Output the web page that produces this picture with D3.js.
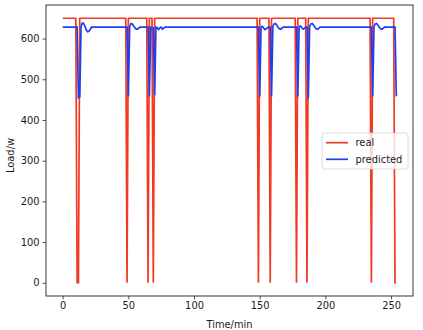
<!DOCTYPE html>
<html>
<head>
<meta charset="utf-8">
<script src="https://cdn.jsdelivr.net/npm/d3@7"></script>
<style>
	html, body { margin: 0; padding: 0; background: #fff; }
	text { font-family: "DejaVu Sans", sans-serif; }
</style>
</head>
<body>
<div id="my_data"></div>
<script>
// real load: vertices (minute, watts)
var realT = [0, 10, 11, 12, 13, 48, 49, 50, 64, 65, 66, 68, 69, 70, 148, 149, 150, 157, 158, 159, 177, 178, 179, 185, 186, 187, 234, 235, 236, 252, 253, 254];
var realV = [650, 650, 0, 0, 650, 650, 0, 650, 650, 0, 650, 650, 0, 650, 650, 0, 650, 650, 0, 650, 650, 0, 650, 650, 0, 650, 650, 0, 650, 650, 0, 0];

// predicted load
var predT = [0, 11, 12, 13, 14, 15, 16, 17, 18, 19, 20, 21, 22,
	49, 50, 51, 52, 53, 54, 55, 56, 57, 58, 59,
	65, 66, 67, 68, 69, 70, 71, 72, 73, 74, 75, 76, 77, 78,
	149, 150, 151, 152, 153, 154, 155, 156, 157,
	158, 159, 160, 161, 162, 163, 164, 165, 166, 167, 168,
	178, 179, 180, 181, 182, 183, 184, 185,
	186, 187, 188, 189, 190, 191, 192, 193, 194, 195, 196,
	235, 236, 237, 238, 239, 240, 241, 242, 243, 244, 245,
	253, 254];
var predV = [628, 628, 455, 457, 630, 638, 637, 630, 621, 617, 618, 623, 628,
	628, 458, 630, 637, 636, 631, 626, 623, 623, 626, 628,
	628, 458, 628, 627, 626, 461, 628, 627, 622, 626, 628, 623, 626, 628,
	628, 458, 628, 630, 626, 622, 624, 627, 628,
	628, 458, 630, 636, 637, 633, 628, 624, 623, 626, 628,
	628, 458, 628, 631, 627, 623, 625, 628,
	628, 453, 630, 636, 637, 633, 628, 624, 623, 625, 628,
	628, 458, 630, 636, 637, 633, 628, 624, 623, 625, 628,
	628, 458];

var xTicks = [0, 50, 100, 150, 200, 250];
var yTicks = [0, 100, 200, 300, 400, 500, 600];
var seriesNames = ["real", "predicted"];
var seriesColors = ["#f03a22", "#1c3ff5"];

var width = 423;
var height = 330;
var margin = {top: 5, right: 10, bottom: 34, left: 46};
var fontSize = "9.9px";

var real = realT.map(function(t, i) { return {t: t, v: realV[i]}; });
var pred = predT.map(function(t, i) { return {t: t, v: predV[i]}; });

// matplotlib style 5% margins
var xPad = 254 * 0.05;
var yPad = 650 * 0.05;

const x = d3.scaleLinear()
	.domain([0 - xPad, 254 + xPad])
	.range([margin.left, width - margin.right]);

const y = d3.scaleLinear()
	.domain([0 - yPad, 650 + yPad])
	.range([height - margin.bottom, margin.top]);

const svg = d3.select("#my_data").append("svg")
	.attr("width", width)
	.attr("height", height);

const line = d3.line()
	.x(d => x(d.t))
	.y(d => y(d.v));

svg.append("path")
	.datum(real)
	.attr("fill", "none")
	.attr("stroke", seriesColors[0])
	.attr("stroke-width", 1.7)
	.attr("d", line);

svg.append("path")
	.datum(pred)
	.attr("fill", "none")
	.attr("stroke", seriesColors[1])
	.attr("stroke-width", 1.7)
	.attr("d", line);

//axes
const xAxis = svg.append("g")
	.attr("transform", "translate(0," + (height - margin.bottom) + ")")
	.call(d3.axisBottom(x).tickValues(xTicks).tickSize(3.4).tickPadding(3));

const yAxis = svg.append("g")
	.attr("transform", "translate(" + margin.left + ",0)")
	.call(d3.axisLeft(y).tickValues(yTicks).tickSize(3.4).tickPadding(3));

[xAxis, yAxis].forEach(function(a) {
	a.select(".domain").remove();
	a.selectAll(".tick line").attr("stroke", "#222").attr("stroke-width", 0.8);
	a.selectAll(".tick text")
	.attr("fill", "#1a1a1a")
	.style("font-size", fontSize)
	.style("font-family", "DejaVu Sans");
});

svg.append("rect")
	.attr("x", margin.left)
	.attr("y", margin.top)
	.attr("width", width - margin.left - margin.right)
	.attr("height", height - margin.top - margin.bottom)
	.attr("fill", "none")
	.attr("stroke", "#222")
	.attr("stroke-width", 0.9);

svg.append("text")
	.attr("x", (margin.left + width - margin.right) / 2)
	.attr("y", 327.5)
	.attr("text-anchor", "middle")
	.style("font-size", fontSize)
	.style("fill", "#1a1a1a")
	.text("Time/min");

svg.append("text")
	.attr("transform", "translate(13.5," + ((margin.top + height - margin.bottom) / 2 + 5) + ") rotate(-90)")
	.attr("text-anchor", "middle")
	.style("font-size", fontSize)
	.style("fill", "#1a1a1a")
	.text("Load/w");

//legend
const legend = svg.append("g")
	.attr("transform", "translate(322,133)");

legend.append("rect")
	.attr("width", 86)
	.attr("height", 36)
	.attr("rx", 2.5)
	.attr("fill", "#fff")
	.attr("fill-opacity", 0.8)
	.attr("stroke", "#d0d0d0")
	.attr("stroke-width", 0.8);

const entry = legend.selectAll("g")
	.data(seriesNames)
	.enter().append("g")
	.attr("transform", (d, i) => "translate(0," + (9.7 + i * 16.6) + ")");

entry.append("line")
	.attr("x1", 4)
	.attr("x2", 26)
	.attr("stroke", (d, i) => seriesColors[i])
	.attr("stroke-width", 1.7);

entry.append("text")
	.attr("x", 33.5)
	.attr("dy", "0.35em")
	.style("font-size", fontSize)
	.style("fill", "#1a1a1a")
	.text(d => d);
</script>
</body>
</html>
